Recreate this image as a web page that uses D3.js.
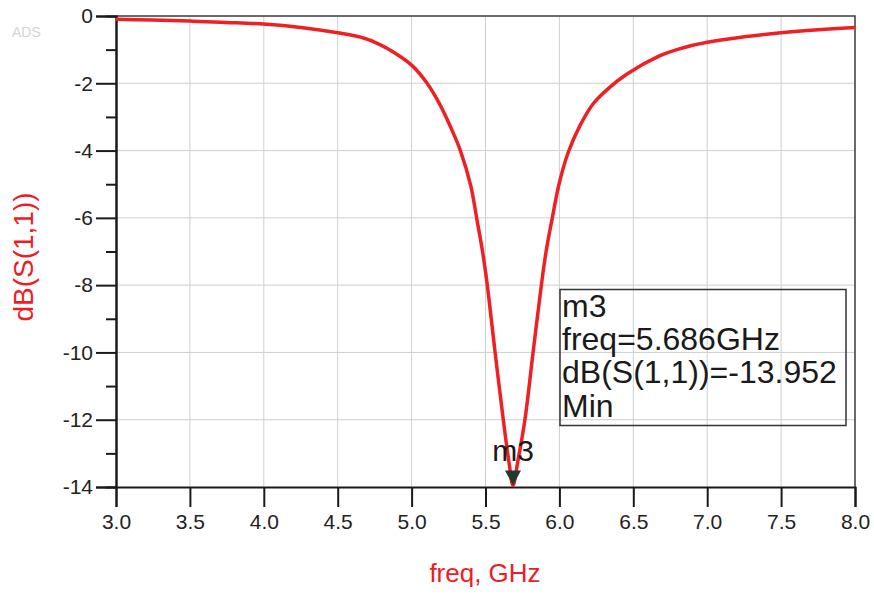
<!DOCTYPE html>
<html>
<head>
<meta charset="utf-8">
<script src="https://cdn.jsdelivr.net/npm/d3@7"></script>
<style>
    body { margin: 0; background: #fff; }
    svg { display: block; font-family: "Liberation Sans", Arial, sans-serif; }
</style>
</head>
<body>
<svg id="chart" width="874" height="597"></svg>
<script>
// S11 of the antenna
const freqGHz = [3.0, 3.25, 3.5, 3.75, 4.0, 4.25, 4.5, 4.68, 4.786, 4.876, 5.0, 5.1, 5.19, 5.28, 5.33, 5.4, 5.44,
    5.48, 5.51, 5.564, 5.62, 5.66, 5.686, 5.72, 5.767, 5.823, 5.88, 5.91, 5.952, 6.0, 6.06,
    6.14, 6.23, 6.34, 6.455, 6.68, 6.8, 7.0, 7.25, 7.5, 7.75, 8.0];
const s11dB = [-0.1, -0.12, -0.15, -0.19, -0.24, -0.34, -0.5, -0.66, -0.85, -1.07, -1.46, -1.97, -2.62, -3.46, -4.0, -5.04, -6.0,
    -7.0, -7.93, -9.96, -11.99, -13.3, -13.952, -13.2, -11.99, -9.96, -7.93, -7.0, -6.0, -4.95, -4.05,
    -3.25, -2.6, -2.12, -1.73, -1.18, -0.99, -0.78, -0.62, -0.5, -0.41, -0.34];

const xTicks = [3.0, 3.5, 4.0, 4.5, 5.0, 5.5, 6.0, 6.5, 7.0, 7.5, 8.0];
const yTicks = [0, -2, -4, -6, -8, -10, -12, -14];
const yMinorTicks = [-1, -3, -5, -7, -9, -11, -13];

const markerName = 'm3';
const markerFreq = 5.686;
const markerValue = -13.952;
const markerLines = ['m3', 'freq=5.686GHz', 'dB(S(1,1))=-13.952', 'Min'];

const svg = d3.select('#chart');
const plotLeft = 116, plotRight = 855, plotTop = 16, plotBottom = 487;

const x = d3.scaleLinear().domain([3, 8]).range([plotLeft, plotRight]);
const y = d3.scaleLinear().domain([-14, 0]).range([plotBottom, plotTop]);

// faint watermark in the corner
svg.append('text')
    .attr('x', 12).attr('y', 37)
    .style('font-size', '14px')
    .style('fill', '#d4d4d4')
    .text('ADS');

// grid
const grid = svg.append('g').attr('class', 'grid')
    .style('stroke', '#cfcfcf')
    .style('stroke-width', 1);

grid.selectAll('line.v').data(xTicks.slice(1, -1))
    .enter().append('line')
    .attr('class', 'v')
    .attr('x1', d => x(d)).attr('x2', d => x(d))
    .attr('y1', plotTop).attr('y2', plotBottom);

grid.selectAll('line.h').data(yTicks.slice(1, -1))
    .enter().append('line')
    .attr('class', 'h')
    .attr('y1', d => y(d)).attr('y2', d => y(d))
    .attr('x1', plotLeft).attr('x2', plotRight);

// frame top / right
svg.append('path')
    .attr('d', `M${plotLeft},${plotTop}H${plotRight}V${plotBottom}`)
    .style('fill', 'none')
    .style('stroke', '#3a3a3a')
    .style('stroke-width', 1.5);

// axes (plain hyphen minus, like ADS)
const yAxis = svg.append('g')
    .attr('transform', `translate(${plotLeft},0)`)
    .call(d3.axisLeft(y).tickValues(yTicks).tickSize(20).tickPadding(3).tickFormat(d => String(d)));

const yMinor = svg.append('g')
    .attr('transform', `translate(${plotLeft},0)`)
    .call(d3.axisLeft(y).tickValues(yMinorTicks).tickSize(10).tickFormat(''));

const xAxis = svg.append('g')
    .attr('transform', `translate(0,${plotBottom})`)
    .call(d3.axisBottom(x).tickValues(xTicks).tickSize(20).tickPadding(7).tickFormat(d => d.toFixed(1)));

[yAxis, yMinor, xAxis].forEach(g => {
    g.select('.domain').style('stroke', '#1a1a1a').style('stroke-width', 2);
    g.selectAll('.tick line').style('stroke', '#1a1a1a').style('stroke-width', 2);
    g.selectAll('.tick text')
        .style('font-size', '21px')
        .style('font-family', '"Liberation Sans", Arial, sans-serif')
        .style('fill', '#222');
});

// axis titles
svg.append('text')
    .attr('transform', 'translate(33,257) rotate(-90)')
    .attr('text-anchor', 'middle')
    .style('font-size', '28px')
    .style('fill', '#ee1c25')
    .text('dB(S(1,1))');

svg.append('text')
    .attr('x', 485).attr('y', 582)
    .attr('text-anchor', 'middle')
    .style('font-size', '26px')
    .style('fill', '#ee1c25')
    .text('freq, GHz');

// the trace
const line = d3.line()
    .x((d, i) => x(freqGHz[i]))
    .y(d => y(d))
    .curve(d3.curveCatmullRom.alpha(0.5));

svg.append('path')
    .datum(s11dB)
    .attr('d', line)
    .style('fill', 'none')
    .style('stroke', '#ee2024')
    .style('stroke-width', 3.5)
    .style('stroke-linejoin', 'round');

// marker
const mx = x(markerFreq), my = y(markerValue);
svg.append('path')
    .attr('d', `M${mx - 8},${my - 15}L${mx + 8},${my - 15}L${mx},${my}Z`)
    .style('fill', '#1f3a2e');

svg.append('text')
    .attr('x', mx).attr('y', my - 24)
    .attr('text-anchor', 'middle')
    .style('font-size', '30px')
    .style('fill', '#1a1a1a')
    .text(markerName);

// marker readout box
svg.append('rect')
    .attr('x', 560).attr('y', 289.5)
    .attr('width', 286).attr('height', 136)
    .style('fill', 'none')
    .style('stroke', '#333')
    .style('stroke-width', 1.5);

svg.append('g').selectAll('text').data(markerLines)
    .enter().append('text')
    .attr('x', 562)
    .attr('y', (d, i) => 316.5 + i * 33.4)
    .style('font-size', '32px')
    .style('fill', '#1a1a1a')
    .text(d => d);
</script>
</body>
</html>
